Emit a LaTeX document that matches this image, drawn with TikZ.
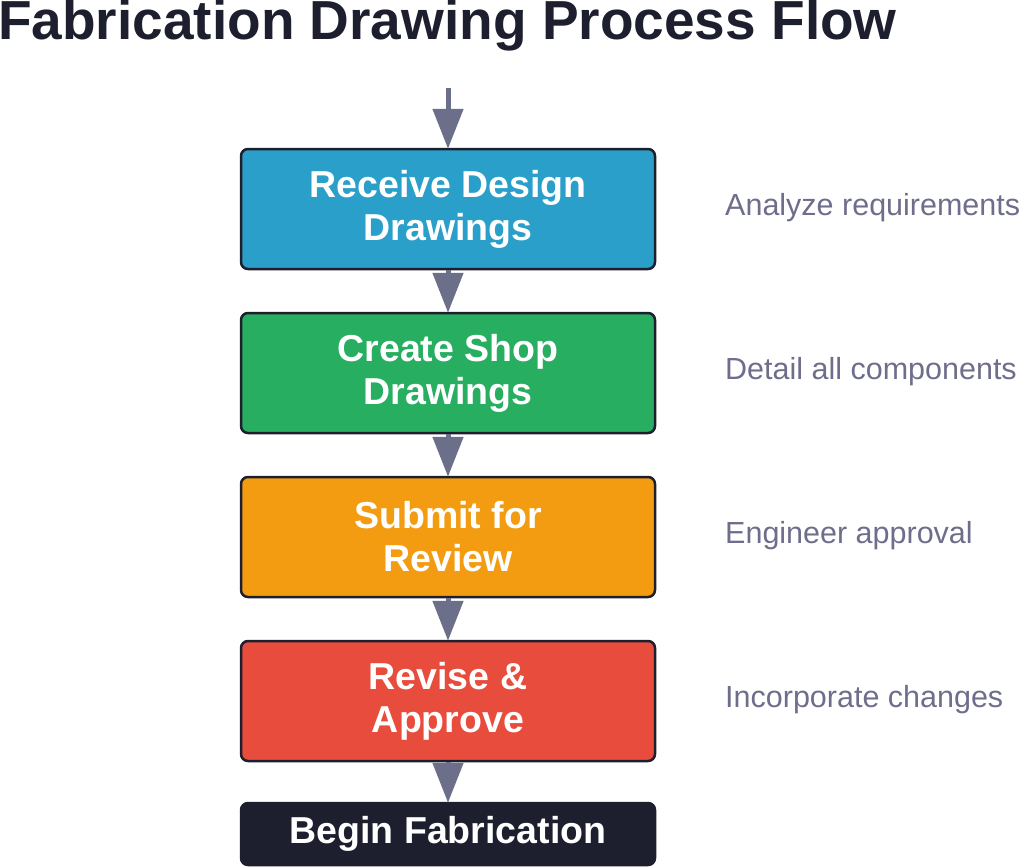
\documentclass[tikz,border=0pt]{standalone}
\usepackage{fontspec}
\setmainfont{Liberation Sans}
\usetikzlibrary{arrows.meta}
\definecolor{cblue}{HTML}{2A9FC9}
\definecolor{cgreen}{HTML}{27AE60}
\definecolor{corange}{HTML}{F39C12}
\definecolor{cred}{HTML}{E74C3C}
\definecolor{cdark}{HTML}{1E1F2E}
\definecolor{cgray}{HTML}{6E6E8C}
\definecolor{carrow}{HTML}{6B6F8A}
\tikzset{
  stepbox/.style={draw=cdark, line width=2.5pt, rounded corners=7pt, minimum width=414pt, minimum height=120pt, text=white, font=\fontsize{37.5}{43}\selectfont\bfseries, align=center, inner sep=0pt},
  side/.style={anchor=west, text=cgray, font=\fontsize{30.5}{34}\selectfont, inner sep=0pt},
  flow/.style={draw=carrow, line width=5pt, -{Triangle[width=30pt,length=40pt]}, shorten >=-1pt}
}
\begin{document}
\begin{tikzpicture}[x=1pt,y=-1pt]
\useasboundingbox (0,0) rectangle (1024,867);
\clip (0,0) rectangle (1024,867);
\node[anchor=base west, inner sep=0pt, text=cdark, font=\fontsize{55}{60}\selectfont\bfseries] (title) at (-2,40) {Fabrication Drawing Process Flow};
\node[stepbox, fill=cblue] (b1) at (448,209) {Receive Design\\Drawings};
\node[stepbox, fill=cgreen] (b2) at (448,373) {Create Shop\\Drawings};
\node[stepbox, fill=corange] (b3) at (448,537) {Submit for\\Review};
\node[stepbox, fill=cred] (b4) at (448,701) {Revise \&\\Approve};
\node[stepbox, fill=cdark, minimum height=62pt] (b5) at (448,834) {Begin Fabrication};
\coordinate (start) at (448,88);
\draw[flow] (start) -- (b1.north);
\draw[flow] (b1.south) -- (b2.north);
\draw[flow] (b2.south) -- (b3.north);
\draw[flow] (b3.south) -- (b4.north);
\draw[flow] (b4.south) -- (b5.north);
\node[side] (s1) at (725,208) {Analyze requirements};
\node[side] (s2) at (725,372) {Detail all components};
\node[side] (s3) at (725,536) {Engineer approval};
\node[side] (s4) at (725,700) {Incorporate changes};
\end{tikzpicture}
\end{document}
